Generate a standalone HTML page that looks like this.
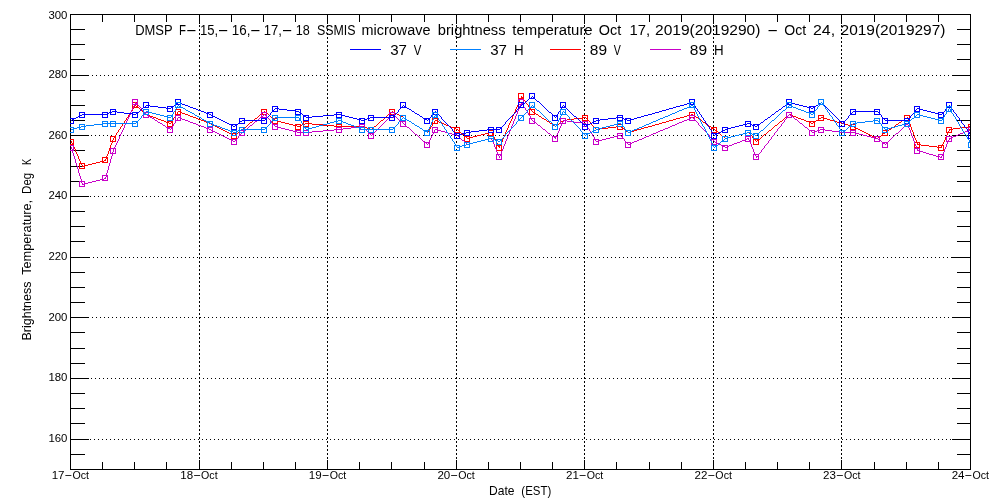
<!DOCTYPE html>
<html><head><meta charset="utf-8"><title>DMSP SSMIS brightness temperature</title>
<style>html,body{margin:0;padding:0;background:#fff}body{width:1000px;height:500px;overflow:hidden}svg{display:block}text{font-family:"Liberation Sans",sans-serif;fill:#000}.t{font-size:14px}.k{font-size:10.8px}</style></head><body>
<svg width="1000" height="500" viewBox="0 0 1000 500">
<rect width="1000" height="500" fill="#fff"/>
<defs><clipPath id="c"><rect x="70" y="14" width="900" height="456"/></clipPath></defs>
<g stroke="#000" stroke-width="1" shape-rendering="crispEdges" fill="none">
<line x1="70" y1="439.5" x2="521" y2="439.5" stroke-dasharray="1 3"/>
<line x1="522" y1="439.5" x2="971" y2="439.5" stroke-dasharray="1 3"/>
<line x1="71" y1="378.5" x2="521" y2="378.5" stroke-dasharray="1 3"/>
<line x1="521" y1="378.5" x2="971" y2="378.5" stroke-dasharray="1 3"/>
<line x1="72" y1="317.5" x2="521" y2="317.5" stroke-dasharray="1 3"/>
<line x1="524" y1="317.5" x2="971" y2="317.5" stroke-dasharray="1 3"/>
<line x1="73" y1="257.5" x2="521" y2="257.5" stroke-dasharray="1 3"/>
<line x1="523" y1="257.5" x2="971" y2="257.5" stroke-dasharray="1 3"/>
<line x1="70" y1="196.5" x2="521" y2="196.5" stroke-dasharray="1 3"/>
<line x1="522" y1="196.5" x2="971" y2="196.5" stroke-dasharray="1 3"/>
<line x1="71" y1="135.5" x2="521" y2="135.5" stroke-dasharray="1 3"/>
<line x1="521" y1="135.5" x2="971" y2="135.5" stroke-dasharray="1 3"/>
<line x1="72" y1="75.5" x2="521" y2="75.5" stroke-dasharray="1 3"/>
<line x1="524" y1="75.5" x2="971" y2="75.5" stroke-dasharray="1 3"/>
<line x1="199.5" y1="17" x2="199.5" y2="470" stroke-dasharray="2 2"/>
<line x1="327.5" y1="17" x2="327.5" y2="470" stroke-dasharray="2 2"/>
<line x1="456.5" y1="17" x2="456.5" y2="470" stroke-dasharray="2 2"/>
<line x1="584.5" y1="17" x2="584.5" y2="470" stroke-dasharray="2 2"/>
<line x1="713.5" y1="17" x2="713.5" y2="470" stroke-dasharray="2 2"/>
<line x1="841.5" y1="17" x2="841.5" y2="470" stroke-dasharray="2 2"/>
<rect x="70.5" y="14.5" width="900" height="455"/>
<line x1="70" y1="469.5" x2="85" y2="469.5"/>
<line x1="957" y1="469.5" x2="971" y2="469.5"/>
<line x1="70" y1="454.5" x2="85" y2="454.5"/>
<line x1="957" y1="454.5" x2="971" y2="454.5"/>
<line x1="70" y1="439.5" x2="89" y2="439.5"/>
<line x1="952" y1="439.5" x2="971" y2="439.5"/>
<line x1="70" y1="423.5" x2="85" y2="423.5"/>
<line x1="957" y1="423.5" x2="971" y2="423.5"/>
<line x1="70" y1="408.5" x2="85" y2="408.5"/>
<line x1="957" y1="408.5" x2="971" y2="408.5"/>
<line x1="70" y1="393.5" x2="85" y2="393.5"/>
<line x1="957" y1="393.5" x2="971" y2="393.5"/>
<line x1="70" y1="378.5" x2="89" y2="378.5"/>
<line x1="952" y1="378.5" x2="971" y2="378.5"/>
<line x1="70" y1="363.5" x2="85" y2="363.5"/>
<line x1="957" y1="363.5" x2="971" y2="363.5"/>
<line x1="70" y1="348.5" x2="85" y2="348.5"/>
<line x1="957" y1="348.5" x2="971" y2="348.5"/>
<line x1="70" y1="332.5" x2="85" y2="332.5"/>
<line x1="957" y1="332.5" x2="971" y2="332.5"/>
<line x1="70" y1="317.5" x2="89" y2="317.5"/>
<line x1="952" y1="317.5" x2="971" y2="317.5"/>
<line x1="70" y1="302.5" x2="85" y2="302.5"/>
<line x1="957" y1="302.5" x2="971" y2="302.5"/>
<line x1="70" y1="287.5" x2="85" y2="287.5"/>
<line x1="957" y1="287.5" x2="971" y2="287.5"/>
<line x1="70" y1="272.5" x2="85" y2="272.5"/>
<line x1="957" y1="272.5" x2="971" y2="272.5"/>
<line x1="70" y1="257.5" x2="89" y2="257.5"/>
<line x1="952" y1="257.5" x2="971" y2="257.5"/>
<line x1="70" y1="241.5" x2="85" y2="241.5"/>
<line x1="957" y1="241.5" x2="971" y2="241.5"/>
<line x1="70" y1="226.5" x2="85" y2="226.5"/>
<line x1="957" y1="226.5" x2="971" y2="226.5"/>
<line x1="70" y1="211.5" x2="85" y2="211.5"/>
<line x1="957" y1="211.5" x2="971" y2="211.5"/>
<line x1="70" y1="196.5" x2="89" y2="196.5"/>
<line x1="952" y1="196.5" x2="971" y2="196.5"/>
<line x1="70" y1="181.5" x2="85" y2="181.5"/>
<line x1="957" y1="181.5" x2="971" y2="181.5"/>
<line x1="70" y1="166.5" x2="85" y2="166.5"/>
<line x1="957" y1="166.5" x2="971" y2="166.5"/>
<line x1="70" y1="150.5" x2="85" y2="150.5"/>
<line x1="957" y1="150.5" x2="971" y2="150.5"/>
<line x1="70" y1="135.5" x2="89" y2="135.5"/>
<line x1="952" y1="135.5" x2="971" y2="135.5"/>
<line x1="70" y1="120.5" x2="85" y2="120.5"/>
<line x1="957" y1="120.5" x2="971" y2="120.5"/>
<line x1="70" y1="105.5" x2="85" y2="105.5"/>
<line x1="957" y1="105.5" x2="971" y2="105.5"/>
<line x1="70" y1="90.5" x2="85" y2="90.5"/>
<line x1="957" y1="90.5" x2="971" y2="90.5"/>
<line x1="70" y1="75.5" x2="89" y2="75.5"/>
<line x1="952" y1="75.5" x2="971" y2="75.5"/>
<line x1="70" y1="59.5" x2="85" y2="59.5"/>
<line x1="957" y1="59.5" x2="971" y2="59.5"/>
<line x1="70" y1="44.5" x2="85" y2="44.5"/>
<line x1="957" y1="44.5" x2="971" y2="44.5"/>
<line x1="70" y1="29.5" x2="85" y2="29.5"/>
<line x1="957" y1="29.5" x2="971" y2="29.5"/>
<line x1="70" y1="14.5" x2="89" y2="14.5"/>
<line x1="952" y1="14.5" x2="971" y2="14.5"/>
<line x1="70.5" y1="14" x2="70.5" y2="24"/>
<line x1="70.5" y1="460" x2="70.5" y2="470"/>
<line x1="102.5" y1="14" x2="102.5" y2="22"/>
<line x1="102.5" y1="462" x2="102.5" y2="470"/>
<line x1="134.5" y1="14" x2="134.5" y2="22"/>
<line x1="134.5" y1="462" x2="134.5" y2="470"/>
<line x1="166.5" y1="14" x2="166.5" y2="22"/>
<line x1="166.5" y1="462" x2="166.5" y2="470"/>
<line x1="199.5" y1="14" x2="199.5" y2="24"/>
<line x1="199.5" y1="460" x2="199.5" y2="470"/>
<line x1="231.5" y1="14" x2="231.5" y2="22"/>
<line x1="231.5" y1="462" x2="231.5" y2="470"/>
<line x1="263.5" y1="14" x2="263.5" y2="22"/>
<line x1="263.5" y1="462" x2="263.5" y2="470"/>
<line x1="295.5" y1="14" x2="295.5" y2="22"/>
<line x1="295.5" y1="462" x2="295.5" y2="470"/>
<line x1="327.5" y1="14" x2="327.5" y2="24"/>
<line x1="327.5" y1="460" x2="327.5" y2="470"/>
<line x1="359.5" y1="14" x2="359.5" y2="22"/>
<line x1="359.5" y1="462" x2="359.5" y2="470"/>
<line x1="391.5" y1="14" x2="391.5" y2="22"/>
<line x1="391.5" y1="462" x2="391.5" y2="470"/>
<line x1="424.5" y1="14" x2="424.5" y2="22"/>
<line x1="424.5" y1="462" x2="424.5" y2="470"/>
<line x1="456.5" y1="14" x2="456.5" y2="24"/>
<line x1="456.5" y1="460" x2="456.5" y2="470"/>
<line x1="488.5" y1="14" x2="488.5" y2="22"/>
<line x1="488.5" y1="462" x2="488.5" y2="470"/>
<line x1="520.5" y1="14" x2="520.5" y2="22"/>
<line x1="520.5" y1="462" x2="520.5" y2="470"/>
<line x1="552.5" y1="14" x2="552.5" y2="22"/>
<line x1="552.5" y1="462" x2="552.5" y2="470"/>
<line x1="584.5" y1="14" x2="584.5" y2="24"/>
<line x1="584.5" y1="460" x2="584.5" y2="470"/>
<line x1="616.5" y1="14" x2="616.5" y2="22"/>
<line x1="616.5" y1="462" x2="616.5" y2="470"/>
<line x1="649.5" y1="14" x2="649.5" y2="22"/>
<line x1="649.5" y1="462" x2="649.5" y2="470"/>
<line x1="681.5" y1="14" x2="681.5" y2="22"/>
<line x1="681.5" y1="462" x2="681.5" y2="470"/>
<line x1="713.5" y1="14" x2="713.5" y2="24"/>
<line x1="713.5" y1="460" x2="713.5" y2="470"/>
<line x1="745.5" y1="14" x2="745.5" y2="22"/>
<line x1="745.5" y1="462" x2="745.5" y2="470"/>
<line x1="777.5" y1="14" x2="777.5" y2="22"/>
<line x1="777.5" y1="462" x2="777.5" y2="470"/>
<line x1="809.5" y1="14" x2="809.5" y2="22"/>
<line x1="809.5" y1="462" x2="809.5" y2="470"/>
<line x1="841.5" y1="14" x2="841.5" y2="24"/>
<line x1="841.5" y1="460" x2="841.5" y2="470"/>
<line x1="874.5" y1="14" x2="874.5" y2="22"/>
<line x1="874.5" y1="462" x2="874.5" y2="470"/>
<line x1="906.5" y1="14" x2="906.5" y2="22"/>
<line x1="906.5" y1="462" x2="906.5" y2="470"/>
<line x1="938.5" y1="14" x2="938.5" y2="22"/>
<line x1="938.5" y1="462" x2="938.5" y2="470"/>
<line x1="970.5" y1="14" x2="970.5" y2="24"/>
<line x1="970.5" y1="460" x2="970.5" y2="470"/>
</g>
<g clip-path="url(#c)" fill="none" stroke-width="1" shape-rendering="crispEdges">
<g stroke="#ff0000">
<path d="M71.5 141v2M72.5 143v2M73.5 145v2M74.5 147v2M75.5 149v3M76.5 152v2M77.5 154v2M78.5 156v3M79.5 159v2M80.5 161v2M81.5 163v2M82.5 165v2M104 160.5h2M100 161.5h4M96 162.5h4M92 163.5h4M88 164.5h4M84 165.5h4M82 166.5h2M105.5 159v2M106.5 156v3M107.5 154v2M108.5 151v3M109.5 148v3M110.5 145v3M111.5 143v2M112.5 140v3M113.5 138v2M113.5 138v1M114.5 136v2M115.5 135v1M116.5 133v2M117.5 132v1M118.5 130v2M119.5 129v1M120.5 127v2M121.5 126v1M122.5 124v2M123.5 123v1M124.5 121v2M125.5 120v1M126.5 118v2M127.5 117v1M128.5 115v2M129.5 114v1M130.5 112v2M131.5 111v1M132.5 109v2M133.5 108v1M134.5 106v2M135.5 105v1M135 105.5h1M136 106.5h1M137 107.5h2M139 108.5h1M140 109.5h1M141 110.5h1M142 111.5h1M143 112.5h2M145 113.5h1M146 114.5h1M146 114.5h2M148 115.5h2M150 116.5h3M153 117.5h3M156 118.5h2M158 119.5h3M161 120.5h3M164 121.5h2M166 122.5h3M169 123.5h2M170.5 123v1M171.5 121v2M172.5 120v1M173.5 118v2M174.5 117v1M175.5 115v2M176.5 114v1M177.5 112v2M178.5 111v1M178 111.5h2M180 112.5h2M182 113.5h3M185 114.5h3M188 115.5h2M190 116.5h3M193 117.5h3M196 118.5h2M198 119.5h3M201 120.5h3M204 121.5h2M206 122.5h3M209 123.5h2M210 123.5h1M211 124.5h2M213 125.5h2M215 126.5h2M217 127.5h2M219 128.5h2M221 129.5h2M223 130.5h2M225 131.5h2M227 132.5h2M229 133.5h2M231 134.5h2M233 135.5h2M242 129.5h1M240 130.5h2M239 131.5h1M238 132.5h1M236 133.5h2M235 134.5h1M234 135.5h1M264 111.5h1M263 112.5h1M261 113.5h2M260 114.5h1M259 115.5h1M258 116.5h1M257 117.5h1M255 118.5h2M254 119.5h1M253 120.5h1M252 121.5h1M250 122.5h2M249 123.5h1M248 124.5h1M247 125.5h1M246 126.5h1M244 127.5h2M243 128.5h1M242 129.5h1M264 111.5h1M265 112.5h1M266 113.5h2M268 114.5h1M269 115.5h1M270 116.5h1M271 117.5h1M272 118.5h2M274 119.5h1M275 120.5h1M275 120.5h2M277 121.5h4M281 122.5h4M285 123.5h4M289 124.5h4M293 125.5h4M297 126.5h2M305 123.5h2M302 124.5h3M300 125.5h2M298 126.5h2M306 123.5h6M312 124.5h11M323 125.5h11M334 126.5h6M339 126.5h24M362 126.5h2M364 127.5h3M367 128.5h3M370 129.5h2M392 111.5h1M391 112.5h1M390 113.5h1M388 114.5h2M387 115.5h1M386 116.5h1M385 117.5h1M384 118.5h1M383 119.5h1M381 120.5h2M380 121.5h1M379 122.5h1M378 123.5h1M377 124.5h1M376 125.5h1M374 126.5h2M373 127.5h1M372 128.5h1M371 129.5h1M392 111.5h1M393 112.5h2M395 113.5h2M397 114.5h2M399 115.5h2M401 116.5h2M403 117.5h1M403 117.5h1M404 118.5h2M406 119.5h1M407 120.5h2M409 121.5h2M411 122.5h1M412 123.5h2M414 124.5h1M415 125.5h2M417 126.5h2M419 127.5h1M420 128.5h2M422 129.5h1M423 130.5h2M425 131.5h2M427 132.5h1M427.5 132v1M428.5 130v2M429.5 129v1M430.5 127v2M431.5 126v1M432.5 124v2M433.5 123v1M434.5 121v2M435.5 120v1M435 120.5h2M437 121.5h2M439 122.5h3M442 123.5h2M444 124.5h2M446 125.5h3M449 126.5h2M451 127.5h3M454 128.5h2M456 129.5h2M457 129.5h1M458 130.5h1M459 131.5h1M460 132.5h1M461 133.5h1M462 134.5h2M464 135.5h1M465 136.5h1M466 137.5h1M467 138.5h1M489 132.5h3M485 133.5h4M481 134.5h4M477 135.5h4M473 136.5h4M469 137.5h4M467 138.5h2M491.5 132v1M492.5 133v2M493.5 135v2M494.5 137v2M495.5 139v2M496.5 141v2M497.5 143v2M498.5 145v2M499.5 147v1M499.5 146v2M500.5 144v2M501.5 142v2M502.5 139v3M503.5 137v2M504.5 135v2M505.5 132v3M506.5 130v2M507.5 128v2M508.5 125v3M509.5 123v2M510.5 121v2M511.5 119v2M512.5 116v3M513.5 114v2M514.5 112v2M515.5 109v3M516.5 107v2M517.5 105v2M518.5 102v3M519.5 100v2M520.5 98v2M521.5 96v2M521.5 96v1M522.5 97v2M523.5 99v1M524.5 100v1M525.5 101v2M526.5 103v1M527.5 104v1M528.5 105v2M529.5 107v1M530.5 108v1M531.5 109v2M532.5 111v1M532 111.5h1M533 112.5h2M535 113.5h1M536 114.5h2M538 115.5h1M539 116.5h2M541 117.5h1M542 118.5h2M544 119.5h2M546 120.5h1M547 121.5h2M549 122.5h1M550 123.5h2M552 124.5h1M553 125.5h2M555 126.5h1M563 120.5h1M561 121.5h2M560 122.5h1M559 123.5h1M557 124.5h2M556 125.5h1M555 126.5h1M582 117.5h4M574 118.5h8M567 119.5h7M563 120.5h4M585.5 117v1M586.5 118v1M587.5 119v1M588.5 120v1M589.5 121v1M590.5 122v1M591.5 123v2M592.5 125v1M593.5 126v1M594.5 127v1M595.5 128v1M596.5 129v1M616 126.5h5M608 127.5h8M600 128.5h8M596 129.5h4M620 126.5h1M621 127.5h1M622 128.5h2M624 129.5h1M625 130.5h1M626 131.5h2M628 132.5h1M691 114.5h2M687 115.5h4M684 116.5h3M680 117.5h4M676 118.5h4M673 119.5h3M669 120.5h4M666 121.5h3M662 122.5h4M659 123.5h3M655 124.5h4M652 125.5h3M648 126.5h4M644 127.5h4M641 128.5h3M637 129.5h4M634 130.5h3M630 131.5h4M628 132.5h2M692 114.5h1M693 115.5h2M695 116.5h1M696 117.5h2M698 118.5h1M699 119.5h2M701 120.5h1M702 121.5h1M703 122.5h2M705 123.5h1M706 124.5h2M708 125.5h1M709 126.5h2M711 127.5h1M712 128.5h2M714 129.5h1M714 129.5h1M715 130.5h1M716 131.5h2M718 132.5h1M719 133.5h1M720 134.5h1M721 135.5h1M722 136.5h2M724 137.5h1M725 138.5h1M747 132.5h2M743 133.5h4M739 134.5h4M735 135.5h4M731 136.5h4M727 137.5h4M725 138.5h2M748.5 132v1M749.5 133v1M750.5 134v1M751.5 135v1M752.5 136v2M753.5 138v1M754.5 139v1M755.5 140v1M756.5 141v1M789 114.5h1M788 115.5h1M786 116.5h2M785 117.5h1M784 118.5h1M783 119.5h1M782 120.5h1M780 121.5h2M779 122.5h1M778 123.5h1M777 124.5h1M775 125.5h2M774 126.5h1M773 127.5h1M772 128.5h1M771 129.5h1M769 130.5h2M768 131.5h1M767 132.5h1M766 133.5h1M764 134.5h2M763 135.5h1M762 136.5h1M761 137.5h1M760 138.5h1M758 139.5h2M757 140.5h1M756 141.5h1M789 114.5h2M791 115.5h2M793 116.5h3M796 117.5h2M798 118.5h3M801 119.5h3M804 120.5h2M806 121.5h3M809 122.5h2M811 123.5h2M821 117.5h1M819 118.5h2M818 119.5h1M816 120.5h2M815 121.5h1M813 122.5h2M812 123.5h1M821 117.5h2M823 118.5h4M827 119.5h3M830 120.5h4M834 121.5h3M837 122.5h4M841 123.5h2M842 123.5h2M844 124.5h4M848 125.5h4M852 126.5h2M853 126.5h1M854 127.5h2M856 128.5h2M858 129.5h2M860 130.5h2M862 131.5h2M864 132.5h2M866 133.5h2M868 134.5h2M870 135.5h2M872 136.5h2M874 137.5h2M876 138.5h2M885 132.5h1M883 133.5h2M882 134.5h1M881 135.5h1M879 136.5h2M878 137.5h1M877 138.5h1M907 117.5h1M905 118.5h2M904 119.5h1M902 120.5h2M901 121.5h1M899 122.5h2M898 123.5h1M896 124.5h2M895 125.5h1M894 126.5h1M892 127.5h2M891 128.5h1M889 129.5h2M888 130.5h1M886 131.5h2M885 132.5h1M907.5 117v2M908.5 119v3M909.5 122v2M910.5 124v3M911.5 127v3M912.5 130v2M913.5 132v3M914.5 135v3M915.5 138v2M916.5 140v3M917.5 143v2M917 144.5h4M921 145.5h8M929 146.5h8M937 147.5h5M941.5 146v2M942.5 144v2M943.5 142v2M944.5 140v2M945.5 137v3M946.5 135v2M947.5 133v2M948.5 131v2M949.5 129v2M968 126.5h2M960 127.5h8M953 128.5h7M949 129.5h4"/>
<rect x="68.5" y="139.5" width="5" height="5"/>
<rect x="79.5" y="163.5" width="5" height="5"/>
<rect x="102.5" y="157.5" width="5" height="5"/>
<rect x="110.5" y="136.5" width="5" height="5"/>
<rect x="132.5" y="102.5" width="5" height="5"/>
<rect x="143.5" y="112.5" width="5" height="5"/>
<rect x="167.5" y="121.5" width="5" height="5"/>
<rect x="175.5" y="109.5" width="5" height="5"/>
<rect x="207.5" y="121.5" width="5" height="5"/>
<rect x="231.5" y="133.5" width="5" height="5"/>
<rect x="239.5" y="127.5" width="5" height="5"/>
<rect x="261.5" y="109.5" width="5" height="5"/>
<rect x="272.5" y="118.5" width="5" height="5"/>
<rect x="295.5" y="124.5" width="5" height="5"/>
<rect x="303.5" y="121.5" width="5" height="5"/>
<rect x="336.5" y="124.5" width="5" height="5"/>
<rect x="359.5" y="124.5" width="5" height="5"/>
<rect x="368.5" y="127.5" width="5" height="5"/>
<rect x="389.5" y="109.5" width="5" height="5"/>
<rect x="400.5" y="115.5" width="5" height="5"/>
<rect x="424.5" y="130.5" width="5" height="5"/>
<rect x="432.5" y="118.5" width="5" height="5"/>
<rect x="454.5" y="127.5" width="5" height="5"/>
<rect x="464.5" y="136.5" width="5" height="5"/>
<rect x="488.5" y="130.5" width="5" height="5"/>
<rect x="496.5" y="145.5" width="5" height="5"/>
<rect x="518.5" y="93.5" width="5" height="5"/>
<rect x="529.5" y="109.5" width="5" height="5"/>
<rect x="552.5" y="124.5" width="5" height="5"/>
<rect x="560.5" y="118.5" width="5" height="5"/>
<rect x="582.5" y="115.5" width="5" height="5"/>
<rect x="593.5" y="127.5" width="5" height="5"/>
<rect x="617.5" y="124.5" width="5" height="5"/>
<rect x="625.5" y="130.5" width="5" height="5"/>
<rect x="689.5" y="112.5" width="5" height="5"/>
<rect x="711.5" y="127.5" width="5" height="5"/>
<rect x="722.5" y="136.5" width="5" height="5"/>
<rect x="745.5" y="130.5" width="5" height="5"/>
<rect x="753.5" y="139.5" width="5" height="5"/>
<rect x="786.5" y="112.5" width="5" height="5"/>
<rect x="809.5" y="121.5" width="5" height="5"/>
<rect x="818.5" y="115.5" width="5" height="5"/>
<rect x="839.5" y="121.5" width="5" height="5"/>
<rect x="850.5" y="124.5" width="5" height="5"/>
<rect x="874.5" y="136.5" width="5" height="5"/>
<rect x="882.5" y="130.5" width="5" height="5"/>
<rect x="904.5" y="115.5" width="5" height="5"/>
<rect x="914.5" y="142.5" width="5" height="5"/>
<rect x="938.5" y="145.5" width="5" height="5"/>
<rect x="946.5" y="127.5" width="5" height="5"/>
<rect x="968.5" y="124.5" width="5" height="5"/>
</g>
<g stroke="#c800c8">
<path d="M71.5 147v2M72.5 149v4M73.5 153v3M74.5 156v3M75.5 159v4M76.5 163v3M77.5 166v3M78.5 169v4M79.5 173v3M80.5 176v3M81.5 179v4M82.5 183v2M104 178.5h2M100 179.5h4M96 180.5h4M92 181.5h4M88 182.5h4M84 183.5h4M82 184.5h2M105.5 177v2M106.5 173v4M107.5 170v3M108.5 166v4M109.5 163v3M110.5 159v4M111.5 156v3M112.5 152v4M113.5 150v2M113.5 149v2M114.5 147v2M115.5 145v2M116.5 143v2M117.5 141v2M118.5 139v2M119.5 136v3M120.5 134v2M121.5 132v2M122.5 130v2M123.5 128v2M124.5 125v3M125.5 123v2M126.5 121v2M127.5 119v2M128.5 117v2M129.5 115v2M130.5 112v3M131.5 110v2M132.5 108v2M133.5 106v2M134.5 104v2M135.5 102v2M135.5 102v1M136.5 103v1M137.5 104v1M138.5 105v1M139.5 106v1M140.5 107v1M141.5 108v2M142.5 110v1M143.5 111v1M144.5 112v1M145.5 113v1M146.5 114v1M146 114.5h1M147 115.5h2M149 116.5h1M150 117.5h2M152 118.5h2M154 119.5h1M155 120.5h2M157 121.5h1M158 122.5h2M160 123.5h2M162 124.5h1M163 125.5h2M165 126.5h1M166 127.5h2M168 128.5h2M170 129.5h1M170.5 129v1M171.5 127v2M172.5 126v1M173.5 124v2M174.5 123v1M175.5 121v2M176.5 120v1M177.5 118v2M178.5 117v1M178 117.5h2M180 118.5h2M182 119.5h3M185 120.5h3M188 121.5h2M190 122.5h3M193 123.5h3M196 124.5h2M198 125.5h3M201 126.5h3M204 127.5h2M206 128.5h3M209 129.5h2M210 129.5h1M211 130.5h2M213 131.5h2M215 132.5h2M217 133.5h2M219 134.5h2M221 135.5h2M223 136.5h2M225 137.5h2M227 138.5h2M229 139.5h2M231 140.5h2M233 141.5h2M234.5 141v1M235.5 140v1M236.5 139v1M237.5 138v1M238.5 136v2M239.5 135v1M240.5 134v1M241.5 133v1M242.5 132v1M264 114.5h1M263 115.5h1M261 116.5h2M260 117.5h1M259 118.5h1M258 119.5h1M257 120.5h1M255 121.5h2M254 122.5h1M253 123.5h1M252 124.5h1M250 125.5h2M249 126.5h1M248 127.5h1M247 128.5h1M246 129.5h1M244 130.5h2M243 131.5h1M242 132.5h1M264.5 114v1M265.5 115v1M266.5 116v1M267.5 117v1M268.5 118v1M269.5 119v1M270.5 120v2M271.5 122v1M272.5 123v1M273.5 124v1M274.5 125v1M275.5 126v1M275 126.5h2M277 127.5h4M281 128.5h4M285 129.5h4M289 130.5h4M293 131.5h4M297 132.5h2M298 132.5h9M334 129.5h6M323 130.5h11M312 131.5h11M306 132.5h6M359 126.5h4M351 127.5h8M343 128.5h8M339 129.5h4M362 126.5h1M363 127.5h1M364 128.5h1M365 129.5h1M366 130.5h1M367 131.5h1M368 132.5h1M369 133.5h1M370 134.5h1M371 135.5h1M392 114.5h1M391 115.5h1M390 116.5h1M389 117.5h1M388 118.5h1M387 119.5h1M386 120.5h1M385 121.5h1M384 122.5h1M383 123.5h1M382 124.5h1M381 125.5h1M380 126.5h1M379 127.5h1M378 128.5h1M377 129.5h1M376 130.5h1M375 131.5h1M374 132.5h1M373 133.5h1M372 134.5h1M371 135.5h1M392 114.5h1M393 115.5h1M394 116.5h2M396 117.5h1M397 118.5h1M398 119.5h1M399 120.5h1M400 121.5h2M402 122.5h1M403 123.5h1M403 123.5h1M404 124.5h1M405 125.5h1M406 126.5h1M407 127.5h2M409 128.5h1M410 129.5h1M411 130.5h1M412 131.5h1M413 132.5h1M414 133.5h1M415 134.5h2M417 135.5h1M418 136.5h1M419 137.5h1M420 138.5h1M421 139.5h1M422 140.5h1M423 141.5h2M425 142.5h1M426 143.5h1M427 144.5h1M427.5 144v1M428.5 142v2M429.5 140v2M430.5 138v2M431.5 136v2M432.5 134v2M433.5 132v2M434.5 130v2M435.5 129v1M435 129.5h2M437 130.5h4M441 131.5h4M445 132.5h3M448 133.5h4M452 134.5h4M456 135.5h2M457 135.5h1M458 136.5h1M459 137.5h1M460 138.5h1M461 139.5h1M462 140.5h2M464 141.5h1M465 142.5h1M466 143.5h1M467 144.5h1M489 138.5h3M485 139.5h4M481 140.5h4M477 141.5h4M473 142.5h4M469 143.5h4M467 144.5h2M491.5 138v2M492.5 140v2M493.5 142v2M494.5 144v3M495.5 147v2M496.5 149v3M497.5 152v2M498.5 154v2M499.5 156v2M499.5 156v2M500.5 154v2M501.5 151v3M502.5 149v2M503.5 146v3M504.5 144v2M505.5 141v3M506.5 139v2M507.5 136v3M508.5 134v2M509.5 131v3M510.5 129v2M511.5 126v3M512.5 124v2M513.5 121v3M514.5 119v2M515.5 116v3M516.5 114v2M517.5 111v3M518.5 109v2M519.5 106v3M520.5 104v2M521.5 102v2M521.5 102v1M522.5 103v2M523.5 105v2M524.5 107v1M525.5 108v2M526.5 110v1M527.5 111v2M528.5 113v2M529.5 115v1M530.5 116v2M531.5 118v2M532.5 120v1M532 120.5h1M533 121.5h1M534 122.5h2M536 123.5h1M537 124.5h1M538 125.5h2M540 126.5h1M541 127.5h1M542 128.5h1M543 129.5h2M545 130.5h1M546 131.5h1M547 132.5h1M548 133.5h2M550 134.5h1M551 135.5h1M552 136.5h2M554 137.5h1M555 138.5h1M555.5 137v2M556.5 135v2M557.5 133v2M558.5 131v2M559.5 128v3M560.5 126v2M561.5 124v2M562.5 122v2M563.5 120v2M563 120.5h4M567 121.5h7M574 122.5h8M582 123.5h4M585.5 123v1M586.5 124v2M587.5 126v2M588.5 128v1M589.5 129v2M590.5 131v1M591.5 132v2M592.5 134v2M593.5 136v1M594.5 137v2M595.5 139v2M596.5 141v1M618 135.5h3M614 136.5h4M610 137.5h4M606 138.5h4M602 139.5h4M598 140.5h4M596 141.5h2M620.5 135v1M621.5 136v1M622.5 137v1M623.5 138v1M624.5 139v2M625.5 141v1M626.5 142v1M627.5 143v1M628.5 144v1M691 117.5h2M689 118.5h2M687 119.5h2M684 120.5h3M682 121.5h2M679 122.5h3M677 123.5h2M675 124.5h2M672 125.5h3M670 126.5h2M668 127.5h2M665 128.5h3M663 129.5h2M660 130.5h3M658 131.5h2M656 132.5h2M653 133.5h3M651 134.5h2M649 135.5h2M646 136.5h3M644 137.5h2M642 138.5h2M639 139.5h3M637 140.5h2M634 141.5h3M632 142.5h2M630 143.5h2M628 144.5h2M692.5 117v1M693.5 118v1M694.5 119v1M695.5 120v1M696.5 121v1M697.5 122v1M698.5 123v2M699.5 125v1M700.5 126v1M701.5 127v1M702.5 128v1M703.5 129v1M704.5 130v1M705.5 131v1M706.5 132v1M707.5 133v1M708.5 134v1M709.5 135v2M710.5 137v1M711.5 138v1M712.5 139v1M713.5 140v1M714.5 141v1M714 141.5h1M715 142.5h2M717 143.5h2M719 144.5h2M721 145.5h2M723 146.5h2M725 147.5h1M747 138.5h2M745 139.5h2M742 140.5h3M740 141.5h2M737 142.5h3M734 143.5h3M732 144.5h2M729 145.5h3M727 146.5h2M725 147.5h2M748.5 138v2M749.5 140v2M750.5 142v2M751.5 144v3M752.5 147v2M753.5 149v3M754.5 152v2M755.5 154v2M756.5 156v2M756.5 157v1M757.5 156v1M758.5 154v2M759.5 153v1M760.5 152v1M761.5 150v2M762.5 149v1M763.5 148v1M764.5 146v2M765.5 145v1M766.5 144v1M767.5 143v1M768.5 141v2M769.5 140v1M770.5 139v1M771.5 137v2M772.5 136v1M773.5 135v1M774.5 133v2M775.5 132v1M776.5 131v1M777.5 129v2M778.5 128v1M779.5 127v1M780.5 126v1M781.5 124v2M782.5 123v1M783.5 122v1M784.5 120v2M785.5 119v1M786.5 118v1M787.5 116v2M788.5 115v1M789.5 114v1M789 114.5h1M790 115.5h1M791 116.5h2M793 117.5h1M794 118.5h1M795 119.5h2M797 120.5h1M798 121.5h1M799 122.5h1M800 123.5h2M802 124.5h1M803 125.5h1M804 126.5h1M805 127.5h2M807 128.5h1M808 129.5h1M809 130.5h2M811 131.5h1M812 132.5h1M820 129.5h2M817 130.5h3M814 131.5h3M812 132.5h2M821 129.5h4M825 130.5h7M832 131.5h7M839 132.5h4M842 132.5h12M853 132.5h2M855 133.5h4M859 134.5h4M863 135.5h4M867 136.5h4M871 137.5h4M875 138.5h3M877 138.5h1M878 139.5h1M879 140.5h2M881 141.5h1M882 142.5h1M883 143.5h2M885 144.5h1M907 123.5h1M906 124.5h1M905 125.5h1M904 126.5h1M903 127.5h1M902 128.5h1M901 129.5h1M900 130.5h1M899 131.5h1M898 132.5h1M896 133.5h2M895 134.5h1M894 135.5h1M893 136.5h1M892 137.5h1M891 138.5h1M890 139.5h1M889 140.5h1M888 141.5h1M887 142.5h1M886 143.5h1M885 144.5h1M907.5 123v2M908.5 125v3M909.5 128v2M910.5 130v3M911.5 133v3M912.5 136v2M913.5 138v3M914.5 141v3M915.5 144v2M916.5 146v3M917.5 149v2M917 150.5h2M919 151.5h4M923 152.5h3M926 153.5h3M929 154.5h4M933 155.5h3M936 156.5h4M940 157.5h2M941.5 156v2M942.5 154v2M943.5 152v2M944.5 149v3M945.5 147v2M946.5 144v3M947.5 142v2M948.5 140v2M949.5 138v2M968 130.5h2M965 131.5h3M963 132.5h2M960 133.5h3M958 134.5h2M956 135.5h2M953 136.5h3M951 137.5h2M949 138.5h2"/>
<rect x="68.5" y="145.5" width="5" height="5"/>
<rect x="79.5" y="181.5" width="5" height="5"/>
<rect x="102.5" y="175.5" width="5" height="5"/>
<rect x="110.5" y="148.5" width="5" height="5"/>
<rect x="132.5" y="99.5" width="5" height="5"/>
<rect x="143.5" y="112.5" width="5" height="5"/>
<rect x="167.5" y="127.5" width="5" height="5"/>
<rect x="175.5" y="115.5" width="5" height="5"/>
<rect x="207.5" y="127.5" width="5" height="5"/>
<rect x="231.5" y="139.5" width="5" height="5"/>
<rect x="239.5" y="130.5" width="5" height="5"/>
<rect x="261.5" y="112.5" width="5" height="5"/>
<rect x="272.5" y="124.5" width="5" height="5"/>
<rect x="295.5" y="130.5" width="5" height="5"/>
<rect x="303.5" y="130.5" width="5" height="5"/>
<rect x="336.5" y="127.5" width="5" height="5"/>
<rect x="359.5" y="124.5" width="5" height="5"/>
<rect x="368.5" y="133.5" width="5" height="5"/>
<rect x="389.5" y="112.5" width="5" height="5"/>
<rect x="400.5" y="121.5" width="5" height="5"/>
<rect x="424.5" y="142.5" width="5" height="5"/>
<rect x="432.5" y="127.5" width="5" height="5"/>
<rect x="454.5" y="133.5" width="5" height="5"/>
<rect x="464.5" y="142.5" width="5" height="5"/>
<rect x="488.5" y="136.5" width="5" height="5"/>
<rect x="496.5" y="154.5" width="5" height="5"/>
<rect x="518.5" y="99.5" width="5" height="5"/>
<rect x="529.5" y="118.5" width="5" height="5"/>
<rect x="552.5" y="136.5" width="5" height="5"/>
<rect x="560.5" y="118.5" width="5" height="5"/>
<rect x="582.5" y="121.5" width="5" height="5"/>
<rect x="593.5" y="139.5" width="5" height="5"/>
<rect x="617.5" y="133.5" width="5" height="5"/>
<rect x="625.5" y="142.5" width="5" height="5"/>
<rect x="689.5" y="115.5" width="5" height="5"/>
<rect x="711.5" y="139.5" width="5" height="5"/>
<rect x="722.5" y="145.5" width="5" height="5"/>
<rect x="745.5" y="136.5" width="5" height="5"/>
<rect x="753.5" y="154.5" width="5" height="5"/>
<rect x="786.5" y="112.5" width="5" height="5"/>
<rect x="809.5" y="130.5" width="5" height="5"/>
<rect x="818.5" y="127.5" width="5" height="5"/>
<rect x="839.5" y="130.5" width="5" height="5"/>
<rect x="850.5" y="130.5" width="5" height="5"/>
<rect x="874.5" y="136.5" width="5" height="5"/>
<rect x="882.5" y="142.5" width="5" height="5"/>
<rect x="904.5" y="121.5" width="5" height="5"/>
<rect x="914.5" y="148.5" width="5" height="5"/>
<rect x="938.5" y="154.5" width="5" height="5"/>
<rect x="946.5" y="136.5" width="5" height="5"/>
<rect x="968.5" y="127.5" width="5" height="5"/>
</g>
<g stroke="#0000ff">
<path d="M82 114.5h1M80 115.5h2M78 116.5h2M76 117.5h2M74 118.5h2M72 119.5h2M71 120.5h1M82 114.5h24M112 111.5h2M109 112.5h3M107 113.5h2M105 114.5h2M113 111.5h4M117 112.5h7M124 113.5h8M132 114.5h4M146 105.5h1M145 106.5h1M143 107.5h2M142 108.5h1M141 109.5h1M140 110.5h1M139 111.5h1M137 112.5h2M136 113.5h1M135 114.5h1M146 105.5h4M150 106.5h8M158 107.5h8M166 108.5h5M178 102.5h1M176 103.5h2M175 104.5h1M174 105.5h1M172 106.5h2M171 107.5h1M170 108.5h1M178 102.5h2M180 103.5h2M182 104.5h3M185 105.5h3M188 106.5h2M190 107.5h3M193 108.5h3M196 109.5h2M198 110.5h3M201 111.5h3M204 112.5h2M206 113.5h3M209 114.5h2M210 114.5h1M211 115.5h2M213 116.5h2M215 117.5h2M217 118.5h2M219 119.5h2M221 120.5h2M223 121.5h2M225 122.5h2M227 123.5h2M229 124.5h2M231 125.5h2M233 126.5h2M242 120.5h1M240 121.5h2M239 122.5h1M238 123.5h1M236 124.5h2M235 125.5h1M234 126.5h1M242 120.5h23M264.5 120v1M265.5 119v1M266.5 118v1M267.5 117v1M268.5 116v1M269.5 115v1M270.5 113v2M271.5 112v1M272.5 111v1M273.5 110v1M274.5 109v1M275.5 108v1M275 108.5h4M279 109.5h8M287 110.5h8M295 111.5h4M298 111.5h1M299 112.5h1M300 113.5h2M302 114.5h1M303 115.5h1M304 116.5h2M306 117.5h1M334 114.5h6M323 115.5h11M312 116.5h11M306 117.5h6M339 114.5h2M341 115.5h4M345 116.5h4M349 117.5h4M353 118.5h4M357 119.5h4M361 120.5h2M370 117.5h2M367 118.5h3M364 119.5h3M362 120.5h2M371 117.5h22M392.5 117v1M393.5 116v1M394.5 115v1M395.5 114v1M396.5 113v1M397.5 112v1M398.5 110v2M399.5 109v1M400.5 108v1M401.5 107v1M402.5 106v1M403.5 105v1M403 105.5h1M404 106.5h2M406 107.5h1M407 108.5h2M409 109.5h2M411 110.5h1M412 111.5h2M414 112.5h1M415 113.5h2M417 114.5h2M419 115.5h1M420 116.5h2M422 117.5h1M423 118.5h2M425 119.5h2M427 120.5h1M427.5 120v1M428.5 119v1M429.5 118v1M430.5 117v1M431.5 115v2M432.5 114v1M433.5 113v1M434.5 112v1M435.5 111v1M435.5 111v1M436.5 112v1M437.5 113v1M438.5 114v1M439.5 115v1M440.5 116v1M441.5 117v2M442.5 119v1M443.5 120v1M444.5 121v1M445.5 122v1M446.5 123v1M447.5 124v1M448.5 125v1M449.5 126v1M450.5 127v1M451.5 128v1M452.5 129v2M453.5 131v1M454.5 132v1M455.5 133v1M456.5 134v1M457.5 135v1M466 132.5h2M462 133.5h4M459 134.5h3M457 135.5h2M487 129.5h5M479 130.5h8M471 131.5h8M467 132.5h4M491 129.5h9M499.5 129v1M500.5 128v1M501.5 127v1M502.5 126v1M503.5 125v1M504.5 124v1M505.5 122v2M506.5 121v1M507.5 120v1M508.5 119v1M509.5 118v1M510.5 117v1M511.5 116v1M512.5 115v1M513.5 114v1M514.5 113v1M515.5 112v1M516.5 110v2M517.5 109v1M518.5 108v1M519.5 107v1M520.5 106v1M521.5 105v1M532 96.5h1M531 97.5h1M529 98.5h2M528 99.5h1M527 100.5h1M526 101.5h1M525 102.5h1M523 103.5h2M522 104.5h1M521 105.5h1M532 96.5h1M533 97.5h1M534 98.5h1M535 99.5h1M536 100.5h1M537 101.5h2M539 102.5h1M540 103.5h1M541 104.5h1M542 105.5h1M543 106.5h1M544 107.5h1M545 108.5h1M546 109.5h1M547 110.5h1M548 111.5h1M549 112.5h2M551 113.5h1M552 114.5h1M553 115.5h1M554 116.5h1M555 117.5h1M555.5 117v1M556.5 115v2M557.5 114v1M558.5 112v2M559.5 111v1M560.5 109v2M561.5 108v1M562.5 106v2M563.5 105v1M563 105.5h1M564 106.5h1M565 107.5h1M566 108.5h1M567 109.5h1M568 110.5h1M569 111.5h1M570 112.5h1M571 113.5h1M572 114.5h1M573 115.5h1M574 116.5h2M576 117.5h1M577 118.5h1M578 119.5h1M579 120.5h1M580 121.5h1M581 122.5h1M582 123.5h1M583 124.5h1M584 125.5h1M585 126.5h1M596 120.5h1M594 121.5h2M592 122.5h2M590 123.5h2M588 124.5h2M586 125.5h2M585 126.5h1M616 117.5h5M608 118.5h8M600 119.5h8M596 120.5h4M620 117.5h2M622 118.5h2M624 119.5h3M627 120.5h2M691 102.5h2M687 103.5h4M684 104.5h3M680 105.5h4M676 106.5h4M673 107.5h3M669 108.5h4M666 109.5h3M662 110.5h4M659 111.5h3M655 112.5h4M652 113.5h3M648 114.5h4M644 115.5h4M641 116.5h3M637 117.5h4M634 118.5h3M630 119.5h4M628 120.5h2M692.5 102v1M693.5 103v2M694.5 105v1M695.5 106v2M696.5 108v1M697.5 109v2M698.5 111v1M699.5 112v2M700.5 114v1M701.5 115v2M702.5 117v1M703.5 118v2M704.5 120v1M705.5 121v2M706.5 123v1M707.5 124v2M708.5 126v1M709.5 127v2M710.5 129v1M711.5 130v2M712.5 132v1M713.5 133v2M714.5 135v1M725 129.5h1M723 130.5h2M721 131.5h2M719 132.5h2M717 133.5h2M715 134.5h2M714 135.5h1M747 123.5h2M743 124.5h4M739 125.5h4M735 126.5h4M731 127.5h4M727 128.5h4M725 129.5h2M748 123.5h2M750 124.5h2M752 125.5h3M755 126.5h2M789 102.5h1M787 103.5h2M786 104.5h1M785 105.5h1M783 106.5h2M782 107.5h1M781 108.5h1M779 109.5h2M778 110.5h1M776 111.5h2M775 112.5h1M774 113.5h1M772 114.5h2M771 115.5h1M770 116.5h1M768 117.5h2M767 118.5h1M765 119.5h2M764 120.5h1M763 121.5h1M761 122.5h2M760 123.5h1M759 124.5h1M757 125.5h2M756 126.5h1M789 102.5h2M791 103.5h4M795 104.5h4M799 105.5h4M803 106.5h4M807 107.5h4M811 108.5h2M821 102.5h1M819 103.5h2M818 104.5h1M816 105.5h2M815 106.5h1M813 107.5h2M812 108.5h1M821 102.5h1M822 103.5h1M823 104.5h1M824 105.5h1M825 106.5h1M826 107.5h1M827 108.5h1M828 109.5h1M829 110.5h1M830 111.5h1M831 112.5h1M832 113.5h1M833 114.5h1M834 115.5h1M835 116.5h1M836 117.5h1M837 118.5h1M838 119.5h1M839 120.5h1M840 121.5h1M841 122.5h1M842 123.5h1M842.5 123v1M843.5 122v1M844.5 121v1M845.5 120v1M846.5 119v1M847.5 118v1M848.5 116v2M849.5 115v1M850.5 114v1M851.5 113v1M852.5 112v1M853.5 111v1M853 111.5h25M877.5 111v1M878.5 112v1M879.5 113v1M880.5 114v1M881.5 115v2M882.5 117v1M883.5 118v1M884.5 119v1M885.5 120v1M885 120.5h23M907.5 120v1M908.5 119v1M909.5 118v1M910.5 116v2M911.5 115v1M912.5 114v1M913.5 113v1M914.5 112v1M915.5 110v2M916.5 109v1M917.5 108v1M917 108.5h2M919 109.5h4M923 110.5h4M927 111.5h4M931 112.5h4M935 113.5h4M939 114.5h3M941.5 114v1M942.5 113v1M943.5 112v1M944.5 111v1M945.5 109v2M946.5 108v1M947.5 107v1M948.5 106v1M949.5 105v1M949.5 105v1M950.5 106v2M951.5 108v1M952.5 109v1M953.5 110v2M954.5 112v1M955.5 113v1M956.5 114v2M957.5 116v1M958.5 117v1M959.5 118v2M960.5 120v1M961.5 121v2M962.5 123v1M963.5 124v1M964.5 125v2M965.5 127v1M966.5 128v1M967.5 129v2M968.5 131v1M969.5 132v1"/>
<rect x="68.5" y="118.5" width="5" height="5"/>
<rect x="79.5" y="112.5" width="5" height="5"/>
<rect x="102.5" y="112.5" width="5" height="5"/>
<rect x="110.5" y="109.5" width="5" height="5"/>
<rect x="132.5" y="112.5" width="5" height="5"/>
<rect x="143.5" y="102.5" width="5" height="5"/>
<rect x="167.5" y="106.5" width="5" height="5"/>
<rect x="175.5" y="99.5" width="5" height="5"/>
<rect x="207.5" y="112.5" width="5" height="5"/>
<rect x="231.5" y="124.5" width="5" height="5"/>
<rect x="239.5" y="118.5" width="5" height="5"/>
<rect x="261.5" y="118.5" width="5" height="5"/>
<rect x="272.5" y="106.5" width="5" height="5"/>
<rect x="295.5" y="109.5" width="5" height="5"/>
<rect x="303.5" y="115.5" width="5" height="5"/>
<rect x="336.5" y="112.5" width="5" height="5"/>
<rect x="359.5" y="118.5" width="5" height="5"/>
<rect x="368.5" y="115.5" width="5" height="5"/>
<rect x="389.5" y="115.5" width="5" height="5"/>
<rect x="400.5" y="102.5" width="5" height="5"/>
<rect x="424.5" y="118.5" width="5" height="5"/>
<rect x="432.5" y="109.5" width="5" height="5"/>
<rect x="454.5" y="133.5" width="5" height="5"/>
<rect x="464.5" y="130.5" width="5" height="5"/>
<rect x="488.5" y="127.5" width="5" height="5"/>
<rect x="496.5" y="127.5" width="5" height="5"/>
<rect x="518.5" y="102.5" width="5" height="5"/>
<rect x="529.5" y="93.5" width="5" height="5"/>
<rect x="552.5" y="115.5" width="5" height="5"/>
<rect x="560.5" y="102.5" width="5" height="5"/>
<rect x="582.5" y="124.5" width="5" height="5"/>
<rect x="593.5" y="118.5" width="5" height="5"/>
<rect x="617.5" y="115.5" width="5" height="5"/>
<rect x="625.5" y="118.5" width="5" height="5"/>
<rect x="689.5" y="99.5" width="5" height="5"/>
<rect x="711.5" y="133.5" width="5" height="5"/>
<rect x="722.5" y="127.5" width="5" height="5"/>
<rect x="745.5" y="121.5" width="5" height="5"/>
<rect x="753.5" y="124.5" width="5" height="5"/>
<rect x="786.5" y="99.5" width="5" height="5"/>
<rect x="809.5" y="106.5" width="5" height="5"/>
<rect x="818.5" y="99.5" width="5" height="5"/>
<rect x="839.5" y="121.5" width="5" height="5"/>
<rect x="850.5" y="109.5" width="5" height="5"/>
<rect x="874.5" y="109.5" width="5" height="5"/>
<rect x="882.5" y="118.5" width="5" height="5"/>
<rect x="904.5" y="118.5" width="5" height="5"/>
<rect x="914.5" y="106.5" width="5" height="5"/>
<rect x="938.5" y="112.5" width="5" height="5"/>
<rect x="946.5" y="102.5" width="5" height="5"/>
<rect x="968.5" y="133.5" width="5" height="5"/>
</g>
<g stroke="#0080ff">
<path d="M81 126.5h2M77 127.5h4M73 128.5h4M71 129.5h2M102 123.5h4M94 124.5h8M86 125.5h8M82 126.5h4M105 123.5h9M113 123.5h23M135.5 123v1M136.5 122v1M137.5 121v1M138.5 120v1M139.5 119v1M140.5 118v1M141.5 116v2M142.5 115v1M143.5 114v1M144.5 113v1M145.5 112v1M146.5 111v1M146 111.5h2M148 112.5h4M152 113.5h4M156 114.5h4M160 115.5h4M164 116.5h4M168 117.5h3M170.5 117v1M171.5 115v2M172.5 114v1M173.5 112v2M174.5 111v1M175.5 109v2M176.5 108v1M177.5 106v2M178.5 105v1M178 105.5h1M179 106.5h2M181 107.5h2M183 108.5h2M185 109.5h1M186 110.5h2M188 111.5h2M190 112.5h2M192 113.5h2M194 114.5h1M195 115.5h2M197 116.5h2M199 117.5h2M201 118.5h1M202 119.5h2M204 120.5h2M206 121.5h2M208 122.5h2M210 123.5h1M210 123.5h2M212 124.5h2M214 125.5h3M217 126.5h3M220 127.5h2M222 128.5h3M225 129.5h3M228 130.5h2M230 131.5h3M233 132.5h2M241 129.5h2M238 130.5h3M236 131.5h2M234 132.5h2M242 129.5h23M264.5 129v1M265.5 128v1M266.5 127v1M267.5 126v1M268.5 125v1M269.5 124v1M270.5 122v2M271.5 121v1M272.5 120v1M273.5 119v1M274.5 118v1M275.5 117v1M275 117.5h24M298.5 117v1M299.5 118v2M300.5 120v1M301.5 121v2M302.5 123v1M303.5 124v2M304.5 126v1M305.5 127v2M306.5 129v1M338 120.5h2M334 121.5h4M330 122.5h4M327 123.5h3M323 124.5h4M319 125.5h4M316 126.5h3M312 127.5h4M308 128.5h4M306 129.5h2M339 120.5h2M341 121.5h2M343 122.5h3M346 123.5h2M348 124.5h3M351 125.5h3M354 126.5h2M356 127.5h3M359 128.5h2M361 129.5h2M362 129.5h10M371 129.5h22M392.5 129v1M393.5 128v1M394.5 127v1M395.5 126v1M396.5 125v1M397.5 124v1M398.5 122v2M399.5 121v1M400.5 120v1M401.5 119v1M402.5 118v1M403.5 117v1M403 117.5h1M404 118.5h2M406 119.5h1M407 120.5h2M409 121.5h2M411 122.5h1M412 123.5h2M414 124.5h1M415 125.5h2M417 126.5h2M419 127.5h1M420 128.5h2M422 129.5h1M423 130.5h2M425 131.5h2M427 132.5h1M427.5 131v2M428.5 129v2M429.5 127v2M430.5 125v2M431.5 122v3M432.5 120v2M433.5 118v2M434.5 116v2M435.5 114v2M435.5 114v1M436.5 115v2M437.5 117v1M438.5 118v2M439.5 120v1M440.5 121v2M441.5 123v1M442.5 124v2M443.5 126v1M444.5 127v2M445.5 129v1M446.5 130v2M447.5 132v1M448.5 133v2M449.5 135v1M450.5 136v2M451.5 138v1M452.5 139v2M453.5 141v1M454.5 142v2M455.5 144v1M456.5 145v2M457.5 147v1M466 144.5h2M462 145.5h4M459 146.5h3M457 147.5h2M489 138.5h3M485 139.5h4M481 140.5h4M477 141.5h4M473 142.5h4M469 143.5h4M467 144.5h2M491 138.5h2M493 139.5h2M495 140.5h3M498 141.5h2M499.5 141v1M500.5 140v1M501.5 139v1M502.5 138v1M503.5 137v1M504.5 136v1M505.5 134v2M506.5 133v1M507.5 132v1M508.5 131v1M509.5 130v1M510.5 129v1M511.5 128v1M512.5 127v1M513.5 126v1M514.5 125v1M515.5 124v1M516.5 122v2M517.5 121v1M518.5 120v1M519.5 119v1M520.5 118v1M521.5 117v1M521.5 117v1M522.5 116v1M523.5 115v1M524.5 114v1M525.5 113v1M526.5 112v1M527.5 110v2M528.5 109v1M529.5 108v1M530.5 107v1M531.5 106v1M532.5 105v1M532 105.5h1M533 106.5h1M534 107.5h1M535 108.5h1M536 109.5h1M537 110.5h2M539 111.5h1M540 112.5h1M541 113.5h1M542 114.5h1M543 115.5h1M544 116.5h1M545 117.5h1M546 118.5h1M547 119.5h1M548 120.5h1M549 121.5h2M551 122.5h1M552 123.5h1M553 124.5h1M554 125.5h1M555 126.5h1M555.5 126v1M556.5 124v2M557.5 122v2M558.5 120v2M559.5 118v2M560.5 116v2M561.5 114v2M562.5 112v2M563.5 111v1M563.5 111v1M564.5 112v1M565.5 113v1M566.5 114v1M567.5 115v1M568.5 116v1M569.5 117v2M570.5 119v1M571.5 120v1M572.5 121v1M573.5 122v1M574.5 123v1M575.5 124v1M576.5 125v1M577.5 126v1M578.5 127v1M579.5 128v1M580.5 129v2M581.5 131v1M582.5 132v1M583.5 133v1M584.5 134v1M585.5 135v1M596 129.5h1M594 130.5h2M592 131.5h2M590 132.5h2M588 133.5h2M586 134.5h2M585 135.5h1M618 123.5h3M614 124.5h4M610 125.5h4M606 126.5h4M602 127.5h4M598 128.5h4M596 129.5h2M620.5 123v1M621.5 124v1M622.5 125v1M623.5 126v1M624.5 127v2M625.5 129v1M626.5 130v1M627.5 131v1M628.5 132v1M691 105.5h2M689 106.5h2M687 107.5h2M684 108.5h3M682 109.5h2M679 110.5h3M677 111.5h2M675 112.5h2M672 113.5h3M670 114.5h2M668 115.5h2M665 116.5h3M663 117.5h2M660 118.5h3M658 119.5h2M656 120.5h2M653 121.5h3M651 122.5h2M649 123.5h2M646 124.5h3M644 125.5h2M642 126.5h2M639 127.5h3M637 128.5h2M634 129.5h3M632 130.5h2M630 131.5h2M628 132.5h2M692.5 105v1M693.5 106v2M694.5 108v2M695.5 110v2M696.5 112v2M697.5 114v2M698.5 116v2M699.5 118v2M700.5 120v2M701.5 122v2M702.5 124v2M703.5 126v1M704.5 127v2M705.5 129v2M706.5 131v2M707.5 133v2M708.5 135v2M709.5 137v2M710.5 139v2M711.5 141v2M712.5 143v2M713.5 145v2M714.5 147v1M725 138.5h1M724 139.5h1M722 140.5h2M721 141.5h1M720 142.5h1M719 143.5h1M718 144.5h1M716 145.5h2M715 146.5h1M714 147.5h1M747 132.5h2M743 133.5h4M739 134.5h4M735 135.5h4M731 136.5h4M727 137.5h4M725 138.5h2M748 132.5h2M750 133.5h2M752 134.5h3M755 135.5h2M789 105.5h1M788 106.5h1M787 107.5h1M786 108.5h1M785 109.5h1M783 110.5h2M782 111.5h1M781 112.5h1M780 113.5h1M779 114.5h1M778 115.5h1M777 116.5h1M776 117.5h1M775 118.5h1M774 119.5h1M772 120.5h2M771 121.5h1M770 122.5h1M769 123.5h1M768 124.5h1M767 125.5h1M766 126.5h1M765 127.5h1M764 128.5h1M763 129.5h1M761 130.5h2M760 131.5h1M759 132.5h1M758 133.5h1M757 134.5h1M756 135.5h1M789 105.5h2M791 106.5h2M793 107.5h3M796 108.5h2M798 109.5h3M801 110.5h3M804 111.5h2M806 112.5h3M809 113.5h2M811 114.5h2M812.5 114v1M813.5 113v1M814.5 111v2M815.5 110v1M816.5 109v1M817.5 107v2M818.5 106v1M819.5 105v1M820.5 103v2M821.5 102v1M821.5 102v1M822.5 103v2M823.5 105v1M824.5 106v1M825.5 107v2M826.5 109v1M827.5 110v2M828.5 112v1M829.5 113v2M830.5 115v1M831.5 116v1M832.5 117v2M833.5 119v1M834.5 120v2M835.5 122v1M836.5 123v2M837.5 125v1M838.5 126v1M839.5 127v2M840.5 129v1M841.5 130v2M842.5 132v1M853 123.5h1M852 124.5h1M850 125.5h2M849 126.5h1M848 127.5h1M847 128.5h1M846 129.5h1M844 130.5h2M843 131.5h1M842 132.5h1M873 120.5h5M865 121.5h8M857 122.5h8M853 123.5h4M877.5 120v1M878.5 121v1M879.5 122v1M880.5 123v1M881.5 124v2M882.5 126v1M883.5 127v1M884.5 128v1M885.5 129v1M906 123.5h2M902 124.5h4M898 125.5h4M895 126.5h3M891 127.5h4M887 128.5h4M885 129.5h2M917 114.5h1M916 115.5h1M915 116.5h1M914 117.5h1M912 118.5h2M911 119.5h1M910 120.5h1M909 121.5h1M908 122.5h1M907 123.5h1M917 114.5h2M919 115.5h4M923 116.5h4M927 117.5h4M931 118.5h4M935 119.5h4M939 120.5h3M941.5 120v1M942.5 118v2M943.5 117v1M944.5 115v2M945.5 114v1M946.5 112v2M947.5 111v1M948.5 109v2M949.5 108v1M949.5 108v1M950.5 109v2M951.5 111v2M952.5 113v1M953.5 114v2M954.5 116v1M955.5 117v2M956.5 119v2M957.5 121v1M958.5 122v2M959.5 124v2M960.5 126v1M961.5 127v2M962.5 129v2M963.5 131v1M964.5 132v2M965.5 134v1M966.5 135v2M967.5 137v2M968.5 139v1M969.5 140v2"/>
<rect x="68.5" y="127.5" width="5" height="5"/>
<rect x="79.5" y="124.5" width="5" height="5"/>
<rect x="102.5" y="121.5" width="5" height="5"/>
<rect x="110.5" y="121.5" width="5" height="5"/>
<rect x="132.5" y="121.5" width="5" height="5"/>
<rect x="143.5" y="109.5" width="5" height="5"/>
<rect x="167.5" y="115.5" width="5" height="5"/>
<rect x="175.5" y="102.5" width="5" height="5"/>
<rect x="207.5" y="121.5" width="5" height="5"/>
<rect x="231.5" y="130.5" width="5" height="5"/>
<rect x="239.5" y="127.5" width="5" height="5"/>
<rect x="261.5" y="127.5" width="5" height="5"/>
<rect x="272.5" y="115.5" width="5" height="5"/>
<rect x="295.5" y="115.5" width="5" height="5"/>
<rect x="303.5" y="127.5" width="5" height="5"/>
<rect x="336.5" y="118.5" width="5" height="5"/>
<rect x="359.5" y="127.5" width="5" height="5"/>
<rect x="368.5" y="127.5" width="5" height="5"/>
<rect x="389.5" y="127.5" width="5" height="5"/>
<rect x="400.5" y="115.5" width="5" height="5"/>
<rect x="424.5" y="130.5" width="5" height="5"/>
<rect x="432.5" y="112.5" width="5" height="5"/>
<rect x="454.5" y="145.5" width="5" height="5"/>
<rect x="464.5" y="142.5" width="5" height="5"/>
<rect x="488.5" y="136.5" width="5" height="5"/>
<rect x="496.5" y="139.5" width="5" height="5"/>
<rect x="518.5" y="115.5" width="5" height="5"/>
<rect x="529.5" y="102.5" width="5" height="5"/>
<rect x="552.5" y="124.5" width="5" height="5"/>
<rect x="560.5" y="109.5" width="5" height="5"/>
<rect x="582.5" y="133.5" width="5" height="5"/>
<rect x="593.5" y="127.5" width="5" height="5"/>
<rect x="617.5" y="121.5" width="5" height="5"/>
<rect x="625.5" y="130.5" width="5" height="5"/>
<rect x="689.5" y="102.5" width="5" height="5"/>
<rect x="711.5" y="145.5" width="5" height="5"/>
<rect x="722.5" y="136.5" width="5" height="5"/>
<rect x="745.5" y="130.5" width="5" height="5"/>
<rect x="753.5" y="133.5" width="5" height="5"/>
<rect x="786.5" y="102.5" width="5" height="5"/>
<rect x="809.5" y="112.5" width="5" height="5"/>
<rect x="818.5" y="99.5" width="5" height="5"/>
<rect x="839.5" y="130.5" width="5" height="5"/>
<rect x="850.5" y="121.5" width="5" height="5"/>
<rect x="874.5" y="118.5" width="5" height="5"/>
<rect x="882.5" y="127.5" width="5" height="5"/>
<rect x="904.5" y="121.5" width="5" height="5"/>
<rect x="914.5" y="112.5" width="5" height="5"/>
<rect x="938.5" y="118.5" width="5" height="5"/>
<rect x="946.5" y="106.5" width="5" height="5"/>
<rect x="968.5" y="142.5" width="5" height="5"/>
</g>
</g>
<g shape-rendering="crispEdges" stroke-width="1">
<line x1="350" y1="49.5" x2="381" y2="49.5" stroke="#0000ff"/>
<line x1="450" y1="49.5" x2="481" y2="49.5" stroke="#0080ff"/>
<line x1="550" y1="49.5" x2="581" y2="49.5" stroke="#ff0000"/>
<line x1="650" y1="49.5" x2="681" y2="49.5" stroke="#c800c8"/>
</g>
<text class="t" y="55"><tspan x="390.21" textLength="16.80" lengthAdjust="spacingAndGlyphs">37</tspan> <tspan x="413.75" textLength="7.58" lengthAdjust="spacingAndGlyphs">V</tspan></text>
<text class="t" y="55"><tspan x="490.21" textLength="16.80" lengthAdjust="spacingAndGlyphs">37</tspan> <tspan x="513.93" textLength="9.64" lengthAdjust="spacingAndGlyphs">H</tspan></text>
<text class="t" y="55"><tspan x="589.81" textLength="17.22" lengthAdjust="spacingAndGlyphs">89</tspan> <tspan x="613.75" textLength="7.07" lengthAdjust="spacingAndGlyphs">V</tspan></text>
<text class="t" y="55"><tspan x="689.81" textLength="17.22" lengthAdjust="spacingAndGlyphs">89</tspan> <tspan x="713.93" textLength="9.64" lengthAdjust="spacingAndGlyphs">H</tspan></text>
<text class="t" y="35"><tspan x="135.22" y="35" textLength="37.18" lengthAdjust="spacingAndGlyphs">DMSP</tspan> <tspan x="178.98" y="35" textLength="6.97" lengthAdjust="spacingAndGlyphs">F</tspan><tspan x="185.80" y="35" textLength="11.21" lengthAdjust="spacingAndGlyphs">-</tspan><tspan x="199.97" y="35" textLength="18.17" lengthAdjust="spacingAndGlyphs">15,</tspan><tspan x="217.60" y="35" textLength="11.21" lengthAdjust="spacingAndGlyphs">-</tspan><tspan x="231.74" y="35" textLength="18.62" lengthAdjust="spacingAndGlyphs">16,</tspan><tspan x="249.80" y="35" textLength="11.21" lengthAdjust="spacingAndGlyphs">-</tspan><tspan x="263.67" y="35" textLength="18.17" lengthAdjust="spacingAndGlyphs">17,</tspan><tspan x="281.60" y="35" textLength="11.21" lengthAdjust="spacingAndGlyphs">-</tspan><tspan x="295.70" y="35" textLength="14.02" lengthAdjust="spacingAndGlyphs">18</tspan> <tspan x="316.95" y="35" textLength="38.56" lengthAdjust="spacingAndGlyphs">SSMIS</tspan> <tspan x="361.60" y="35" textLength="68.95" lengthAdjust="spacingAndGlyphs">microwave</tspan> <tspan x="437.83" y="35" textLength="67.66" lengthAdjust="spacingAndGlyphs">brightness</tspan> <tspan x="512.37" y="35" textLength="80.28" lengthAdjust="spacingAndGlyphs">temperature</tspan> <tspan x="598.86" y="35" textLength="22.43" lengthAdjust="spacingAndGlyphs">Oct</tspan> <tspan x="629.44" y="35" textLength="20.60" lengthAdjust="spacingAndGlyphs">17,</tspan> <tspan x="655.06" y="35" textLength="105.40" lengthAdjust="spacingAndGlyphs">2019(2019290)</tspan> <tspan x="766.98" y="35" textLength="11.35" lengthAdjust="spacingAndGlyphs">-</tspan> <tspan x="784.37" y="35" textLength="21.91" lengthAdjust="spacingAndGlyphs">Oct</tspan> <tspan x="813.04" y="35" textLength="22.09" lengthAdjust="spacingAndGlyphs">24,</tspan> <tspan x="840.56" y="35" textLength="104.89" lengthAdjust="spacingAndGlyphs">2019(2019297)</tspan></text>
<text class="k" x="48.40" y="19" textLength="19.01" lengthAdjust="spacingAndGlyphs">300</text>
<text class="k" x="48.40" y="78" textLength="19.01" lengthAdjust="spacingAndGlyphs">280</text>
<text class="k" x="48.40" y="139" textLength="19.01" lengthAdjust="spacingAndGlyphs">260</text>
<text class="k" x="48.40" y="199" textLength="19.01" lengthAdjust="spacingAndGlyphs">240</text>
<text class="k" x="48.40" y="260" textLength="19.01" lengthAdjust="spacingAndGlyphs">220</text>
<text class="k" x="48.40" y="321" textLength="19.01" lengthAdjust="spacingAndGlyphs">200</text>
<text class="k" x="48.40" y="381" textLength="19.01" lengthAdjust="spacingAndGlyphs">180</text>
<text class="k" x="48.40" y="442" textLength="19.01" lengthAdjust="spacingAndGlyphs">160</text>
<text class="k" y="479"><tspan x="51.70" y="479" textLength="12.85" lengthAdjust="spacingAndGlyphs">17</tspan><tspan x="64.36" y="478" textLength="8.25" lengthAdjust="spacingAndGlyphs">-</tspan><tspan x="72.51" y="479" textLength="16.54" lengthAdjust="spacingAndGlyphs">Oct</tspan></text>
<text class="k" y="479"><tspan x="180.27" y="479" textLength="12.85" lengthAdjust="spacingAndGlyphs">18</tspan><tspan x="192.93" y="478" textLength="8.25" lengthAdjust="spacingAndGlyphs">-</tspan><tspan x="201.08" y="479" textLength="16.54" lengthAdjust="spacingAndGlyphs">Oct</tspan></text>
<text class="k" y="479"><tspan x="308.84" y="479" textLength="12.85" lengthAdjust="spacingAndGlyphs">19</tspan><tspan x="321.50" y="478" textLength="8.25" lengthAdjust="spacingAndGlyphs">-</tspan><tspan x="329.65" y="479" textLength="16.54" lengthAdjust="spacingAndGlyphs">Oct</tspan></text>
<text class="k" y="479"><tspan x="437.41" y="479" textLength="12.85" lengthAdjust="spacingAndGlyphs">20</tspan><tspan x="450.07" y="478" textLength="8.25" lengthAdjust="spacingAndGlyphs">-</tspan><tspan x="458.22" y="479" textLength="16.54" lengthAdjust="spacingAndGlyphs">Oct</tspan></text>
<text class="k" y="479"><tspan x="565.98" y="479" textLength="12.85" lengthAdjust="spacingAndGlyphs">21</tspan><tspan x="578.64" y="478" textLength="8.25" lengthAdjust="spacingAndGlyphs">-</tspan><tspan x="586.79" y="479" textLength="16.54" lengthAdjust="spacingAndGlyphs">Oct</tspan></text>
<text class="k" y="479"><tspan x="694.55" y="479" textLength="12.85" lengthAdjust="spacingAndGlyphs">22</tspan><tspan x="707.21" y="478" textLength="8.25" lengthAdjust="spacingAndGlyphs">-</tspan><tspan x="715.36" y="479" textLength="16.54" lengthAdjust="spacingAndGlyphs">Oct</tspan></text>
<text class="k" y="479"><tspan x="823.13" y="479" textLength="12.85" lengthAdjust="spacingAndGlyphs">23</tspan><tspan x="835.79" y="478" textLength="8.25" lengthAdjust="spacingAndGlyphs">-</tspan><tspan x="843.94" y="479" textLength="16.54" lengthAdjust="spacingAndGlyphs">Oct</tspan></text>
<text class="k" y="479"><tspan x="951.70" y="479" textLength="12.85" lengthAdjust="spacingAndGlyphs">24</tspan><tspan x="964.36" y="478" textLength="8.25" lengthAdjust="spacingAndGlyphs">-</tspan><tspan x="972.51" y="479" textLength="16.54" lengthAdjust="spacingAndGlyphs">Oct</tspan></text>
<text class="t" style="font-size:13px" y="495"><tspan x="489.07" textLength="25.48" lengthAdjust="spacingAndGlyphs">Date</tspan> <tspan x="521.34" textLength="29.89" lengthAdjust="spacingAndGlyphs">(EST)</tspan></text>
<text class="t" style="font-size:13px" transform="translate(31,0) rotate(-90)" y="0"><tspan x="-340.46" textLength="58.86" lengthAdjust="spacingAndGlyphs">Brightness</tspan> <tspan x="-274.84" textLength="74.91" lengthAdjust="spacingAndGlyphs">Temperature,</tspan> <tspan x="-193.88" textLength="21.04" lengthAdjust="spacingAndGlyphs">Deg</tspan> <tspan x="-165.12" textLength="6.24" lengthAdjust="spacingAndGlyphs">K</tspan></text>
</svg></body></html>
